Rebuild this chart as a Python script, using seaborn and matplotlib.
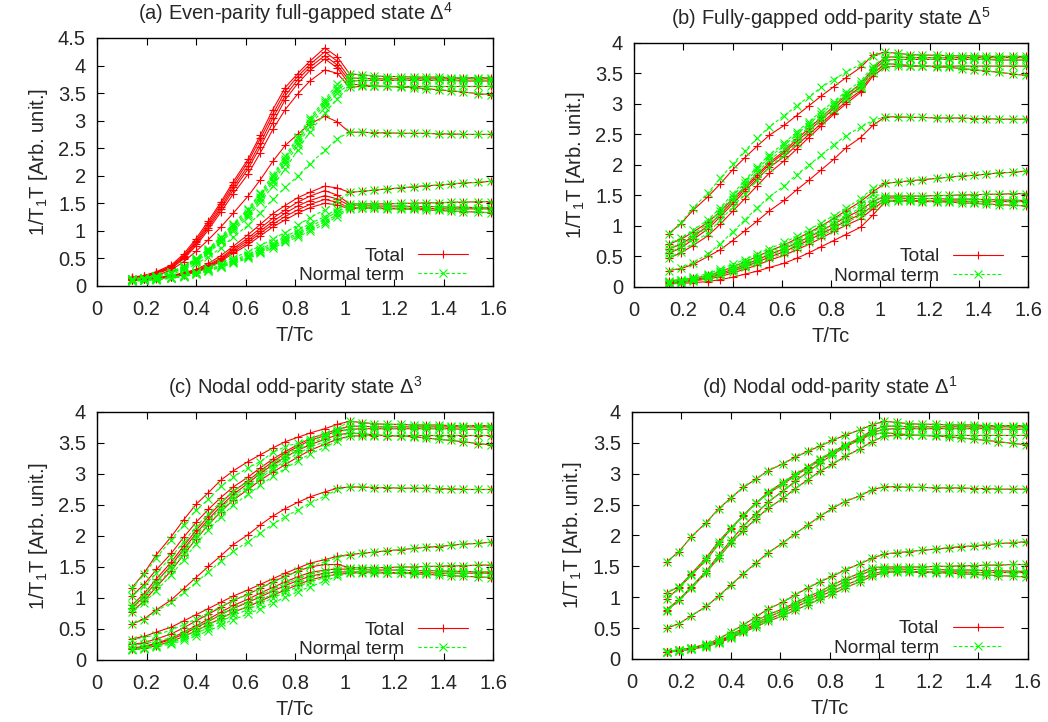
#!/usr/bin/env python3
"""
1/T1T vs T/Tc for four gap structures (total rate and normal term)
"""

import matplotlib
matplotlib.use("Agg")
import pandas as pd
import matplotlib.pyplot as plt
from matplotlib.lines import Line2D
from matplotlib.ticker import MultipleLocator, FuncFormatter
import seaborn as sns

# temperature grid, superconducting side and normal side
T_sc = [0.14, 0.19, 0.24, 0.30, 0.35, 0.40, 0.45, 0.50, 0.55, 0.61, 0.66, 0.71,
        0.76, 0.81, 0.86, 0.92, 0.97]
T_n = [1.02, 1.07, 1.12, 1.17, 1.23, 1.28, 1.33, 1.38, 1.43, 1.48, 1.54, 1.59]

# normal state part, same for every panel (11 curves)
normal_state = [
    [3.85, 3.83, 3.81, 3.80, 3.80, 3.79, 3.79, 3.79, 3.78, 3.78, 3.78, 3.78],
    [3.77, 3.77, 3.76, 3.76, 3.76, 3.76, 3.76, 3.76, 3.76, 3.76, 3.76, 3.76],
    [3.72, 3.73, 3.73, 3.73, 3.73, 3.73, 3.73, 3.73, 3.73, 3.72, 3.72, 3.72],
    [3.66, 3.65, 3.63, 3.62, 3.61, 3.60, 3.58, 3.56, 3.54, 3.52, 3.49, 3.47],
    [3.61, 3.62, 3.62, 3.62, 3.62, 3.62, 3.62, 3.62, 3.62, 3.62, 3.62, 3.62],
    [2.79, 2.79, 2.78, 2.78, 2.77, 2.77, 2.77, 2.76, 2.76, 2.75, 2.75, 2.75],
    [1.70, 1.72, 1.74, 1.76, 1.78, 1.80, 1.82, 1.83, 1.85, 1.87, 1.88, 1.90],
    [1.49, 1.49, 1.49, 1.49, 1.50, 1.50, 1.51, 1.51, 1.52, 1.52, 1.53, 1.53],
    [1.46, 1.46, 1.45, 1.45, 1.45, 1.44, 1.44, 1.44, 1.43, 1.43, 1.42, 1.42],
    [1.42, 1.42, 1.42, 1.41, 1.41, 1.41, 1.41, 1.40, 1.40, 1.40, 1.40, 1.40],
    [1.40, 1.41, 1.41, 1.40, 1.40, 1.39, 1.38, 1.37, 1.36, 1.35, 1.34, 1.33],
]

# (a) even-parity full gap
a_total = [
    [0.16, 0.19, 0.26, 0.38, 0.58, 0.86, 1.18, 1.52, 1.89, 2.30, 2.74, 3.20, 3.60, 3.85, 4.08, 4.32, 4.16],
    [0.15, 0.18, 0.25, 0.36, 0.55, 0.82, 1.14, 1.48, 1.84, 2.25, 2.68, 3.12, 3.53, 3.80, 4.02, 4.25, 4.08],
    [0.15, 0.18, 0.24, 0.35, 0.53, 0.79, 1.10, 1.43, 1.79, 2.18, 2.60, 3.05, 3.45, 3.74, 3.97, 4.18, 4.01],
    [0.14, 0.17, 0.23, 0.33, 0.51, 0.76, 1.06, 1.39, 1.74, 2.12, 2.53, 2.96, 3.38, 3.67, 3.91, 4.12, 3.96],
    [0.14, 0.17, 0.22, 0.32, 0.49, 0.73, 1.02, 1.34, 1.67, 2.03, 2.42, 2.84, 3.20, 3.48, 3.72, 3.92, 3.86],
    [0.12, 0.14, 0.19, 0.29, 0.44, 0.63, 0.84, 1.07, 1.32, 1.63, 1.93, 2.26, 2.55, 2.75, 2.94, 3.08, 2.98],
    [0.12, 0.13, 0.15, 0.19, 0.24, 0.30, 0.41, 0.55, 0.72, 0.93, 1.12, 1.31, 1.46, 1.60, 1.70, 1.81, 1.78],
    [0.12, 0.13, 0.14, 0.18, 0.23, 0.29, 0.38, 0.51, 0.68, 0.87, 1.05, 1.23, 1.38, 1.52, 1.63, 1.73, 1.65],
    [0.11, 0.12, 0.14, 0.17, 0.22, 0.27, 0.36, 0.49, 0.65, 0.83, 1.00, 1.17, 1.32, 1.45, 1.55, 1.64, 1.58],
    [0.11, 0.12, 0.14, 0.17, 0.21, 0.26, 0.35, 0.47, 0.62, 0.79, 0.96, 1.12, 1.26, 1.38, 1.48, 1.57, 1.52],
    [0.11, 0.12, 0.13, 0.16, 0.20, 0.25, 0.33, 0.45, 0.59, 0.75, 0.91, 1.07, 1.20, 1.32, 1.42, 1.50, 1.47],
]
a_normal = [
    [0.13, 0.15, 0.19, 0.26, 0.36, 0.50, 0.68, 0.89, 1.13, 1.40, 1.69, 2.01, 2.35, 2.70, 3.05, 3.38, 3.66],
    [0.13, 0.15, 0.19, 0.25, 0.35, 0.49, 0.66, 0.87, 1.10, 1.37, 1.66, 1.97, 2.31, 2.66, 3.01, 3.34, 3.60],
    [0.12, 0.14, 0.18, 0.24, 0.34, 0.47, 0.64, 0.84, 1.07, 1.33, 1.62, 1.93, 2.26, 2.61, 2.96, 3.30, 3.55],
    [0.12, 0.14, 0.18, 0.24, 0.33, 0.46, 0.62, 0.82, 1.04, 1.29, 1.57, 1.88, 2.21, 2.55, 2.90, 3.24, 3.50],
    [0.12, 0.14, 0.17, 0.23, 0.32, 0.44, 0.60, 0.79, 1.00, 1.25, 1.52, 1.81, 2.12, 2.46, 2.80, 3.13, 3.40],
    [0.10, 0.12, 0.15, 0.21, 0.29, 0.40, 0.53, 0.69, 0.89, 1.10, 1.33, 1.57, 1.79, 1.99, 2.22, 2.46, 2.67],
    [0.10, 0.11, 0.13, 0.16, 0.20, 0.26, 0.33, 0.42, 0.51, 0.62, 0.73, 0.85, 0.97, 1.10, 1.24, 1.38, 1.54],
    [0.10, 0.11, 0.12, 0.15, 0.19, 0.24, 0.30, 0.38, 0.47, 0.57, 0.67, 0.78, 0.89, 1.01, 1.13, 1.26, 1.40],
    [0.10, 0.11, 0.12, 0.15, 0.18, 0.23, 0.29, 0.36, 0.45, 0.54, 0.64, 0.75, 0.85, 0.96, 1.08, 1.21, 1.35],
    [0.09, 0.10, 0.12, 0.14, 0.18, 0.22, 0.28, 0.35, 0.43, 0.52, 0.62, 0.72, 0.82, 0.93, 1.04, 1.16, 1.30],
    [0.09, 0.10, 0.11, 0.14, 0.17, 0.21, 0.27, 0.34, 0.41, 0.50, 0.59, 0.69, 0.79, 0.89, 1.00, 1.12, 1.26],
]

# (b) fully gapped odd-parity
b_total = [
    [0.87, 1.04, 1.26, 1.48, 1.69, 1.92, 2.12, 2.31, 2.49, 2.65, 2.81, 2.97, 3.13, 3.28, 3.43, 3.60, 3.80],
    [0.70, 0.78, 0.90, 1.06, 1.24, 1.44, 1.64, 1.84, 2.04, 2.23, 2.42, 2.60, 2.78, 2.96, 3.14, 3.33, 3.58],
    [0.62, 0.70, 0.83, 1.00, 1.19, 1.40, 1.61, 1.81, 2.01, 2.20, 2.38, 2.56, 2.74, 2.92, 3.10, 3.28, 3.55],
    [0.55, 0.64, 0.78, 0.95, 1.15, 1.36, 1.57, 1.77, 1.96, 2.14, 2.32, 2.50, 2.68, 2.86, 3.04, 3.22, 3.50],
    [0.47, 0.56, 0.68, 0.84, 1.03, 1.24, 1.45, 1.66, 1.87, 2.07, 2.26, 2.45, 2.64, 2.83, 3.00, 3.19, 3.46],
    [0.27, 0.30, 0.37, 0.50, 0.61, 0.76, 0.92, 1.08, 1.25, 1.42, 1.59, 1.75, 1.92, 2.09, 2.28, 2.45, 2.65],
    [0.10, 0.12, 0.14, 0.19, 0.25, 0.33, 0.41, 0.50, 0.59, 0.69, 0.79, 0.89, 1.00, 1.12, 1.25, 1.40, 1.56],
    [0.09, 0.10, 0.12, 0.16, 0.22, 0.29, 0.36, 0.45, 0.53, 0.63, 0.72, 0.82, 0.92, 1.03, 1.14, 1.26, 1.40],
    [0.08, 0.09, 0.11, 0.15, 0.20, 0.26, 0.33, 0.41, 0.49, 0.58, 0.67, 0.77, 0.87, 0.97, 1.08, 1.19, 1.33],
    [0.07, 0.08, 0.10, 0.13, 0.17, 0.23, 0.29, 0.36, 0.44, 0.52, 0.61, 0.70, 0.80, 0.91, 1.01, 1.12, 1.28],
    [0.05, 0.06, 0.07, 0.09, 0.12, 0.16, 0.21, 0.26, 0.32, 0.39, 0.47, 0.56, 0.66, 0.76, 0.86, 0.98, 1.18],
]
b_normal = [
    [0.87, 1.05, 1.30, 1.54, 1.78, 2.01, 2.23, 2.44, 2.63, 2.81, 2.97, 3.12, 3.27, 3.40, 3.52, 3.65, 3.78],
    [0.70, 0.80, 0.93, 1.10, 1.30, 1.52, 1.75, 1.97, 2.17, 2.36, 2.54, 2.71, 2.88, 3.04, 3.20, 3.37, 3.62],
    [0.62, 0.72, 0.86, 1.04, 1.25, 1.48, 1.71, 1.93, 2.13, 2.32, 2.50, 2.67, 2.84, 3.00, 3.16, 3.33, 3.58],
    [0.55, 0.66, 0.81, 0.99, 1.20, 1.43, 1.66, 1.88, 2.08, 2.27, 2.45, 2.62, 2.79, 2.96, 3.12, 3.30, 3.55],
    [0.47, 0.58, 0.72, 0.89, 1.09, 1.31, 1.53, 1.75, 1.97, 2.17, 2.36, 2.55, 2.73, 2.90, 3.08, 3.26, 3.50],
    [0.27, 0.31, 0.40, 0.54, 0.71, 0.90, 1.10, 1.30, 1.48, 1.66, 1.84, 2.00, 2.16, 2.33, 2.48, 2.62, 2.73],
    [0.10, 0.12, 0.16, 0.22, 0.29, 0.37, 0.45, 0.54, 0.63, 0.73, 0.83, 0.94, 1.05, 1.17, 1.29, 1.45, 1.62],
    [0.09, 0.11, 0.14, 0.19, 0.26, 0.33, 0.41, 0.49, 0.58, 0.67, 0.77, 0.87, 0.98, 1.10, 1.22, 1.36, 1.52],
    [0.08, 0.10, 0.13, 0.18, 0.24, 0.31, 0.38, 0.46, 0.55, 0.64, 0.73, 0.83, 0.93, 1.04, 1.16, 1.30, 1.45],
    [0.07, 0.09, 0.12, 0.16, 0.22, 0.28, 0.35, 0.43, 0.51, 0.60, 0.69, 0.79, 0.89, 0.99, 1.10, 1.23, 1.38],
    [0.05, 0.07, 0.10, 0.14, 0.19, 0.25, 0.32, 0.39, 0.47, 0.55, 0.64, 0.74, 0.84, 0.94, 1.05, 1.17, 1.33],
]

# (c) nodal odd-parity Delta^3
c_total = [
    [1.16, 1.40, 1.70, 1.99, 2.26, 2.51, 2.70, 2.90, 3.05, 3.20, 3.31, 3.42, 3.52, 3.59, 3.66, 3.73, 3.80],
    [1.03, 1.22, 1.46, 1.72, 1.98, 2.22, 2.43, 2.62, 2.79, 2.95, 3.10, 3.24, 3.36, 3.47, 3.57, 3.65, 3.72],
    [0.88, 1.07, 1.31, 1.58, 1.84, 2.09, 2.32, 2.53, 2.72, 2.89, 3.05, 3.20, 3.33, 3.44, 3.54, 3.62, 3.69],
    [0.84, 1.02, 1.26, 1.53, 1.79, 2.04, 2.27, 2.48, 2.67, 2.85, 3.01, 3.15, 3.27, 3.38, 3.47, 3.56, 3.63],
    [0.78, 0.95, 1.18, 1.44, 1.70, 1.95, 2.18, 2.39, 2.58, 2.75, 2.90, 3.03, 3.15, 3.27, 3.38, 3.48, 3.56],
    [0.58, 0.66, 0.81, 0.97, 1.15, 1.33, 1.51, 1.68, 1.86, 2.02, 2.18, 2.32, 2.44, 2.54, 2.63, 2.71, 2.77],
    [0.34, 0.38, 0.45, 0.53, 0.63, 0.73, 0.83, 0.93, 1.03, 1.13, 1.22, 1.31, 1.40, 1.48, 1.56, 1.62, 1.67],
    [0.25, 0.28, 0.34, 0.42, 0.52, 0.63, 0.74, 0.85, 0.96, 1.06, 1.16, 1.26, 1.35, 1.43, 1.50, 1.54, 1.54],
    [0.19, 0.22, 0.27, 0.35, 0.45, 0.55, 0.66, 0.77, 0.88, 0.98, 1.08, 1.17, 1.26, 1.34, 1.41, 1.45, 1.47],
    [0.18, 0.21, 0.26, 0.33, 0.42, 0.52, 0.62, 0.73, 0.83, 0.93, 1.02, 1.11, 1.20, 1.28, 1.35, 1.40, 1.42],
    [0.17, 0.19, 0.23, 0.30, 0.38, 0.47, 0.57, 0.67, 0.77, 0.86, 0.95, 1.04, 1.13, 1.21, 1.29, 1.35, 1.38],
]
c_normal = [
    [1.16, 1.38, 1.65, 1.94, 2.18, 2.42, 2.59, 2.80, 2.95, 3.10, 3.20, 3.35, 3.44, 3.50, 3.57, 3.65, 3.73],
    [1.03, 1.19, 1.41, 1.66, 1.91, 2.15, 2.36, 2.55, 2.72, 2.88, 3.03, 3.17, 3.30, 3.42, 3.53, 3.62, 3.70],
    [0.88, 1.04, 1.26, 1.51, 1.77, 2.01, 2.24, 2.45, 2.64, 2.81, 2.97, 3.12, 3.26, 3.38, 3.49, 3.59, 3.67],
    [0.84, 0.99, 1.21, 1.46, 1.71, 1.96, 2.19, 2.40, 2.59, 2.77, 2.93, 3.08, 3.21, 3.33, 3.43, 3.52, 3.60],
    [0.78, 0.92, 1.12, 1.37, 1.62, 1.87, 2.10, 2.31, 2.50, 2.67, 2.82, 2.96, 3.09, 3.21, 3.32, 3.43, 3.53],
    [0.58, 0.65, 0.79, 0.93, 1.09, 1.25, 1.42, 1.59, 1.75, 1.91, 2.05, 2.19, 2.31, 2.42, 2.53, 2.64, 2.75],
    [0.33, 0.36, 0.41, 0.48, 0.57, 0.66, 0.76, 0.86, 0.96, 1.06, 1.16, 1.25, 1.34, 1.43, 1.51, 1.58, 1.65],
    [0.24, 0.26, 0.30, 0.36, 0.44, 0.53, 0.63, 0.73, 0.84, 0.94, 1.04, 1.14, 1.23, 1.31, 1.38, 1.44, 1.48],
    [0.18, 0.20, 0.24, 0.30, 0.38, 0.47, 0.57, 0.67, 0.77, 0.87, 0.97, 1.06, 1.15, 1.24, 1.32, 1.39, 1.44],
    [0.17, 0.19, 0.23, 0.28, 0.35, 0.43, 0.52, 0.62, 0.72, 0.81, 0.91, 1.00, 1.09, 1.18, 1.26, 1.33, 1.39],
    [0.16, 0.18, 0.21, 0.26, 0.32, 0.39, 0.47, 0.56, 0.65, 0.74, 0.83, 0.92, 1.01, 1.10, 1.18, 1.27, 1.35],
]

# (d) nodal odd-parity Delta^1: total and normal term lie on top of each other
d_total = [
    [1.57, 1.74, 1.98, 2.21, 2.43, 2.61, 2.78, 2.91, 3.05, 3.16, 3.27, 3.36, 3.45, 3.54, 3.62, 3.71, 3.79],
    [1.07, 1.17, 1.38, 1.64, 1.90, 2.12, 2.32, 2.52, 2.70, 2.86, 2.99, 3.11, 3.24, 3.35, 3.46, 3.58, 3.70],
    [0.97, 1.15, 1.36, 1.60, 1.86, 2.11, 2.33, 2.52, 2.68, 2.83, 2.97, 3.09, 3.22, 3.34, 3.45, 3.56, 3.67],
    [0.80, 0.96, 1.17, 1.42, 1.68, 1.92, 2.15, 2.35, 2.54, 2.72, 2.88, 3.03, 3.17, 3.31, 3.43, 3.55, 3.64],
    [0.78, 0.95, 1.15, 1.40, 1.64, 1.88, 2.08, 2.27, 2.44, 2.60, 2.76, 2.90, 3.04, 3.15, 3.28, 3.40, 3.52],
    [0.50, 0.57, 0.70, 0.85, 1.02, 1.20, 1.38, 1.55, 1.72, 1.88, 2.03, 2.17, 2.31, 2.44, 2.55, 2.64, 2.74],
    [0.12, 0.15, 0.18, 0.24, 0.32, 0.44, 0.55, 0.68, 0.81, 0.92, 1.04, 1.15, 1.25, 1.34, 1.44, 1.54, 1.63],
    [0.12, 0.14, 0.17, 0.22, 0.29, 0.39, 0.50, 0.61, 0.72, 0.81, 0.91, 1.01, 1.09, 1.20, 1.29, 1.39, 1.48],
    [0.12, 0.14, 0.17, 0.22, 0.28, 0.37, 0.47, 0.57, 0.68, 0.78, 0.88, 0.97, 1.06, 1.15, 1.25, 1.35, 1.44],
    [0.11, 0.13, 0.16, 0.21, 0.27, 0.36, 0.45, 0.55, 0.64, 0.74, 0.84, 0.93, 1.02, 1.10, 1.19, 1.29, 1.38],
    [0.11, 0.13, 0.16, 0.20, 0.26, 0.34, 0.43, 0.52, 0.61, 0.70, 0.79, 0.88, 0.97, 1.05, 1.15, 1.25, 1.34],
]
d_normal = d_total

titles = [
    "(a) Even-parity full-gapped state $\\Delta^{4}$",
    "(b) Fully-gapped odd-parity state $\\Delta^{5}$",
    "(c) Nodal odd-parity state $\\Delta^{3}$",
    "(d) Nodal odd-parity state $\\Delta^{1}$",
]
y_max = [4.5, 4, 4, 4]

# axes rectangles in figure fractions
rects = [
    [0.0926, 0.6039, 0.3779, 0.3435],
    [0.6050, 0.6025, 0.3760, 0.3380],
    [0.0926, 0.0859, 0.3779, 0.3435],
    [0.6030, 0.0873, 0.3779, 0.3421],
]

RED = "#ff0000"
GREEN = "#00ff00"
FS = 14.5


def make_frame(total, normal):
    rows = []
    for i in range(len(normal_state)):
        for kind, below in (("Total", total[i]), ("Normal term", normal[i])):
            ys = list(below) + list(normal_state[i])
            for t, v in zip(T_sc + T_n, ys):
                rows.append((i, kind, t, v))
    return pd.DataFrame(rows, columns=["curve", "kind", "T", "rate"])


sns.set_style("ticks", {"xtick.direction": "in", "ytick.direction": "in"})
plt.rcParams["font.family"] = ["Liberation Sans", "DejaVu Sans"]
plt.rcParams["mathtext.fontset"] = "custom"
plt.rcParams["mathtext.rm"] = "Liberation Sans"
plt.rcParams["mathtext.it"] = "Liberation Sans:italic"
plt.rcParams["mathtext.default"] = "regular"

fig = plt.figure(figsize=(10.48, 7.22), dpi=100)

data = [(a_total, a_normal), (b_total, b_normal), (c_total, c_normal), (d_total, d_normal)]

for k, (total, normal) in enumerate(data):
    ax = fig.add_axes(rects[k])
    df = make_frame(total, normal)
    sns.lineplot(data=df, x="T", y="rate", hue="kind", style="kind", units="curve",
                 estimator=None, sort=False,
                 palette={"Total": RED, "Normal term": GREEN},
                 markers={"Total": "+", "Normal term": "x"},
                 dashes={"Total": "", "Normal term": (3, 2)},
                 linewidth=0.8, markersize=5.5, legend=False, ax=ax)
    for ln in ax.lines:
        ln.set_markeredgecolor(ln.get_color())
        ln.set_markeredgewidth(0.8)

    ax.set_xlim(0, 1.6)
    ax.set_ylim(0, y_max[k])
    ax.xaxis.set_major_locator(MultipleLocator(0.2))
    ax.yaxis.set_major_locator(MultipleLocator(0.5))
    fmt = FuncFormatter(lambda v, p: f"{v:g}")
    ax.xaxis.set_major_formatter(fmt)
    ax.yaxis.set_major_formatter(fmt)
    ax.tick_params(which="both", direction="in", top=True, right=True,
                   length=5, width=0.8, labelsize=FS, pad=8, color="black")
    ax.tick_params(axis="x", pad=10)
    for sp in ax.spines.values():
        sp.set_linewidth(1.0)
        sp.set_color("black")

    ax.set_title(titles[k], fontsize=FS, pad=13)
    ax.set_xlabel("T/Tc", fontsize=FS, labelpad=5)
    ax.set_ylabel("1/T$_1$T [Arb. unit.]", fontsize=FS, labelpad=6)

    handles = [
        Line2D([], [], color=RED, lw=0.8, marker="+", markersize=5.5, mew=0.8),
        Line2D([], [], color=GREEN, lw=0.8, marker="x", markersize=5.5, mew=0.8,
               linestyle=(0, (3, 2))),
    ]
    ax.legend(handles, ["Total", "Normal term"], loc="lower right",
              bbox_to_anchor=(0.96, -0.03), frameon=False, markerfirst=False,
              fontsize=13.8, handlelength=2.6, handletextpad=0.7,
              labelspacing=0.1, borderpad=0.0, numpoints=1)

fig.savefig("out.png", dpi=100)
